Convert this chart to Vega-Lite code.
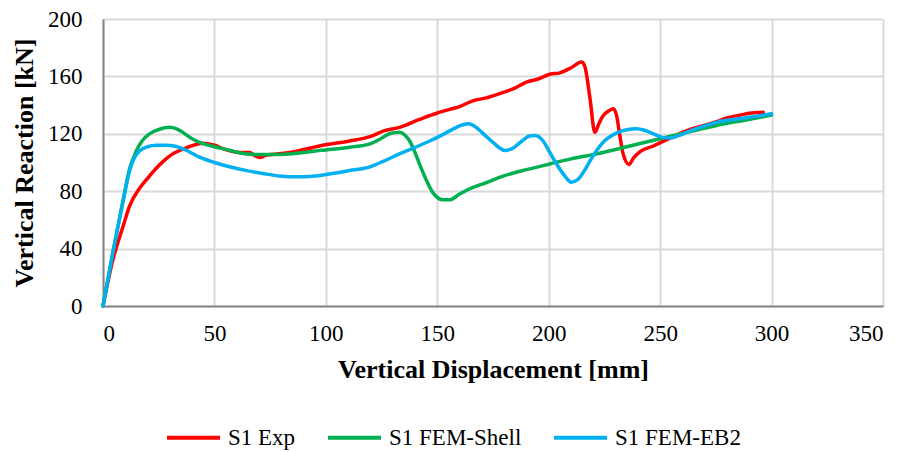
{
  "$schema": "https://vega.github.io/schema/vega-lite/v6.json",
  "autosize": "none",
  "width": 780,
  "height": 287,
  "padding": {"left": 103, "top": 19, "right": 21, "bottom": 146},
  "background": "white",
  "config": {
    "view": {"stroke": null},
    "font": "Liberation Serif, serif",
    "axis": {
      "labelFont": "Liberation Serif, serif",
      "labelFontSize": 23,
      "labelColor": "#000000",
      "titleFont": "Liberation Serif, serif",
      "titleFontSize": 26,
      "titleFontWeight": "bold",
      "titleColor": "#000000",
      "gridColor": "#D9D9D9",
      "gridWidth": 2,
      "domainColor": "#868686",
      "domainWidth": 2,
      "ticks": false
    },
    "legend": {"labelFont": "Liberation Serif, serif"}
  },
  "data": {
    "values": [
      {"series": "S1 Exp", "x": 0, "y": 0},
      {"series": "S1 Exp", "x": 4.4, "y": 32},
      {"series": "S1 Exp", "x": 8.9, "y": 55},
      {"series": "S1 Exp", "x": 12, "y": 70},
      {"series": "S1 Exp", "x": 16.4, "y": 82},
      {"series": "S1 Exp", "x": 20, "y": 89},
      {"series": "S1 Exp", "x": 23.9, "y": 96},
      {"series": "S1 Exp", "x": 27.5, "y": 101.5},
      {"series": "S1 Exp", "x": 31.3, "y": 106},
      {"series": "S1 Exp", "x": 37, "y": 110},
      {"series": "S1 Exp", "x": 44.8, "y": 113.5},
      {"series": "S1 Exp", "x": 50, "y": 112},
      {"series": "S1 Exp", "x": 55, "y": 109},
      {"series": "S1 Exp", "x": 61.3, "y": 107},
      {"series": "S1 Exp", "x": 65.8, "y": 107},
      {"series": "S1 Exp", "x": 68, "y": 105},
      {"series": "S1 Exp", "x": 70.3, "y": 103.5},
      {"series": "S1 Exp", "x": 73, "y": 105},
      {"series": "S1 Exp", "x": 78, "y": 106},
      {"series": "S1 Exp", "x": 83.7, "y": 107},
      {"series": "S1 Exp", "x": 90, "y": 109},
      {"series": "S1 Exp", "x": 98.6, "y": 112},
      {"series": "S1 Exp", "x": 110.7, "y": 115},
      {"series": "S1 Exp", "x": 119.8, "y": 118},
      {"series": "S1 Exp", "x": 126, "y": 122},
      {"series": "S1 Exp", "x": 133, "y": 124.5},
      {"series": "S1 Exp", "x": 142, "y": 130},
      {"series": "S1 Exp", "x": 150, "y": 134.5},
      {"series": "S1 Exp", "x": 155.6, "y": 137},
      {"series": "S1 Exp", "x": 160, "y": 139},
      {"series": "S1 Exp", "x": 166, "y": 143},
      {"series": "S1 Exp", "x": 172, "y": 145},
      {"series": "S1 Exp", "x": 178, "y": 148},
      {"series": "S1 Exp", "x": 185, "y": 152},
      {"series": "S1 Exp", "x": 190, "y": 156},
      {"series": "S1 Exp", "x": 195, "y": 158},
      {"series": "S1 Exp", "x": 200.5, "y": 161.5},
      {"series": "S1 Exp", "x": 205, "y": 162.5},
      {"series": "S1 Exp", "x": 210, "y": 166},
      {"series": "S1 Exp", "x": 214.7, "y": 170},
      {"series": "S1 Exp", "x": 216.2, "y": 167},
      {"series": "S1 Exp", "x": 218.5, "y": 145},
      {"series": "S1 Exp", "x": 220.7, "y": 121},
      {"series": "S1 Exp", "x": 222.5, "y": 127},
      {"series": "S1 Exp", "x": 224.4, "y": 132.5},
      {"series": "S1 Exp", "x": 227, "y": 136},
      {"series": "S1 Exp", "x": 229, "y": 137.5},
      {"series": "S1 Exp", "x": 230.4, "y": 133},
      {"series": "S1 Exp", "x": 232, "y": 118},
      {"series": "S1 Exp", "x": 233.4, "y": 106},
      {"series": "S1 Exp", "x": 236, "y": 98.6},
      {"series": "S1 Exp", "x": 238, "y": 103},
      {"series": "S1 Exp", "x": 241, "y": 107.5},
      {"series": "S1 Exp", "x": 247, "y": 111.5},
      {"series": "S1 Exp", "x": 254.4, "y": 117},
      {"series": "S1 Exp", "x": 263.4, "y": 123},
      {"series": "S1 Exp", "x": 270, "y": 126},
      {"series": "S1 Exp", "x": 275.3, "y": 128.5},
      {"series": "S1 Exp", "x": 280, "y": 131},
      {"series": "S1 Exp", "x": 285.8, "y": 133},
      {"series": "S1 Exp", "x": 291, "y": 134.5},
      {"series": "S1 Exp", "x": 296.3, "y": 135},

      {"series": "S1 FEM-Shell", "x": 0, "y": 0},
      {"series": "S1 FEM-Shell", "x": 4.5, "y": 38},
      {"series": "S1 FEM-Shell", "x": 8.9, "y": 73},
      {"series": "S1 FEM-Shell", "x": 12, "y": 96},
      {"series": "S1 FEM-Shell", "x": 14.9, "y": 108},
      {"series": "S1 FEM-Shell", "x": 17.5, "y": 115},
      {"series": "S1 FEM-Shell", "x": 20.9, "y": 120},
      {"series": "S1 FEM-Shell", "x": 25, "y": 123},
      {"series": "S1 FEM-Shell", "x": 29.9, "y": 124.6},
      {"series": "S1 FEM-Shell", "x": 33, "y": 123.5},
      {"series": "S1 FEM-Shell", "x": 35.8, "y": 121},
      {"series": "S1 FEM-Shell", "x": 40, "y": 116.5},
      {"series": "S1 FEM-Shell", "x": 43.3, "y": 114},
      {"series": "S1 FEM-Shell", "x": 50, "y": 111},
      {"series": "S1 FEM-Shell", "x": 56.8, "y": 108.5},
      {"series": "S1 FEM-Shell", "x": 62, "y": 106.5},
      {"series": "S1 FEM-Shell", "x": 68.8, "y": 105.6},
      {"series": "S1 FEM-Shell", "x": 76, "y": 105.5},
      {"series": "S1 FEM-Shell", "x": 83.7, "y": 106},
      {"series": "S1 FEM-Shell", "x": 90, "y": 107},
      {"series": "S1 FEM-Shell", "x": 98, "y": 108.5},
      {"series": "S1 FEM-Shell", "x": 110.7, "y": 110.7},
      {"series": "S1 FEM-Shell", "x": 119.8, "y": 113},
      {"series": "S1 FEM-Shell", "x": 124, "y": 116},
      {"series": "S1 FEM-Shell", "x": 128.6, "y": 120},
      {"series": "S1 FEM-Shell", "x": 133, "y": 121},
      {"series": "S1 FEM-Shell", "x": 135.5, "y": 119},
      {"series": "S1 FEM-Shell", "x": 137.6, "y": 115},
      {"series": "S1 FEM-Shell", "x": 140, "y": 107},
      {"series": "S1 FEM-Shell", "x": 142, "y": 99},
      {"series": "S1 FEM-Shell", "x": 145, "y": 88},
      {"series": "S1 FEM-Shell", "x": 148, "y": 79},
      {"series": "S1 FEM-Shell", "x": 152.6, "y": 74},
      {"series": "S1 FEM-Shell", "x": 155.6, "y": 74},
      {"series": "S1 FEM-Shell", "x": 160, "y": 78},
      {"series": "S1 FEM-Shell", "x": 164.6, "y": 81.7},
      {"series": "S1 FEM-Shell", "x": 172, "y": 86},
      {"series": "S1 FEM-Shell", "x": 179.5, "y": 90.5},
      {"series": "S1 FEM-Shell", "x": 190, "y": 95},
      {"series": "S1 FEM-Shell", "x": 200.5, "y": 99},
      {"series": "S1 FEM-Shell", "x": 210, "y": 102.5},
      {"series": "S1 FEM-Shell", "x": 221.5, "y": 106},
      {"series": "S1 FEM-Shell", "x": 235, "y": 111},
      {"series": "S1 FEM-Shell", "x": 249.9, "y": 116.5},
      {"series": "S1 FEM-Shell", "x": 262, "y": 121},
      {"series": "S1 FEM-Shell", "x": 275.3, "y": 125.8},
      {"series": "S1 FEM-Shell", "x": 288, "y": 129.5},
      {"series": "S1 FEM-Shell", "x": 300, "y": 133},

      {"series": "S1 FEM-EB2", "x": 0, "y": 0},
      {"series": "S1 FEM-EB2", "x": 4.5, "y": 38},
      {"series": "S1 FEM-EB2", "x": 8.9, "y": 72},
      {"series": "S1 FEM-EB2", "x": 11.9, "y": 94},
      {"series": "S1 FEM-EB2", "x": 14, "y": 103},
      {"series": "S1 FEM-EB2", "x": 16.4, "y": 108},
      {"series": "S1 FEM-EB2", "x": 20, "y": 111},
      {"series": "S1 FEM-EB2", "x": 23.9, "y": 112},
      {"series": "S1 FEM-EB2", "x": 28, "y": 112},
      {"series": "S1 FEM-EB2", "x": 32.9, "y": 111.2},
      {"series": "S1 FEM-EB2", "x": 38, "y": 108},
      {"series": "S1 FEM-EB2", "x": 43.3, "y": 103.7},
      {"series": "S1 FEM-EB2", "x": 50, "y": 100},
      {"series": "S1 FEM-EB2", "x": 56.8, "y": 97},
      {"series": "S1 FEM-EB2", "x": 64, "y": 94.5},
      {"series": "S1 FEM-EB2", "x": 71.8, "y": 92.3},
      {"series": "S1 FEM-EB2", "x": 80, "y": 90.5},
      {"series": "S1 FEM-EB2", "x": 86.8, "y": 90},
      {"series": "S1 FEM-EB2", "x": 93, "y": 90.3},
      {"series": "S1 FEM-EB2", "x": 98.7, "y": 91.3},
      {"series": "S1 FEM-EB2", "x": 105, "y": 92.8},
      {"series": "S1 FEM-EB2", "x": 110.7, "y": 94.4},
      {"series": "S1 FEM-EB2", "x": 119.8, "y": 97},
      {"series": "S1 FEM-EB2", "x": 126, "y": 101},
      {"series": "S1 FEM-EB2", "x": 133, "y": 106},
      {"series": "S1 FEM-EB2", "x": 140, "y": 110.5},
      {"series": "S1 FEM-EB2", "x": 148, "y": 116},
      {"series": "S1 FEM-EB2", "x": 155.6, "y": 122},
      {"series": "S1 FEM-EB2", "x": 160, "y": 125.5},
      {"series": "S1 FEM-EB2", "x": 164, "y": 127},
      {"series": "S1 FEM-EB2", "x": 167, "y": 125},
      {"series": "S1 FEM-EB2", "x": 170, "y": 121},
      {"series": "S1 FEM-EB2", "x": 175, "y": 114},
      {"series": "S1 FEM-EB2", "x": 180.3, "y": 108.4},
      {"series": "S1 FEM-EB2", "x": 184, "y": 110},
      {"series": "S1 FEM-EB2", "x": 188, "y": 115},
      {"series": "S1 FEM-EB2", "x": 191.5, "y": 118.5},
      {"series": "S1 FEM-EB2", "x": 194, "y": 118.8},
      {"series": "S1 FEM-EB2", "x": 197.5, "y": 115},
      {"series": "S1 FEM-EB2", "x": 200.5, "y": 107},
      {"series": "S1 FEM-EB2", "x": 203.5, "y": 99},
      {"series": "S1 FEM-EB2", "x": 207, "y": 91},
      {"series": "S1 FEM-EB2", "x": 210.2, "y": 86.3},
      {"series": "S1 FEM-EB2", "x": 213, "y": 88},
      {"series": "S1 FEM-EB2", "x": 215.5, "y": 93},
      {"series": "S1 FEM-EB2", "x": 218.5, "y": 101},
      {"series": "S1 FEM-EB2", "x": 221.5, "y": 108.4},
      {"series": "S1 FEM-EB2", "x": 225, "y": 115},
      {"series": "S1 FEM-EB2", "x": 230.4, "y": 120.5},
      {"series": "S1 FEM-EB2", "x": 235, "y": 122.8},
      {"series": "S1 FEM-EB2", "x": 239.4, "y": 123.5},
      {"series": "S1 FEM-EB2", "x": 243, "y": 122.5},
      {"series": "S1 FEM-EB2", "x": 247, "y": 120},
      {"series": "S1 FEM-EB2", "x": 251, "y": 117.5},
      {"series": "S1 FEM-EB2", "x": 254.4, "y": 117},
      {"series": "S1 FEM-EB2", "x": 258, "y": 118.5},
      {"series": "S1 FEM-EB2", "x": 263.4, "y": 122},
      {"series": "S1 FEM-EB2", "x": 270, "y": 125.5},
      {"series": "S1 FEM-EB2", "x": 275.3, "y": 128},
      {"series": "S1 FEM-EB2", "x": 288, "y": 131},
      {"series": "S1 FEM-EB2", "x": 300, "y": 134}
    ]
  },
  "mark": {"type": "line", "interpolate": "monotone", "strokeWidth": 3.5, "strokeCap": "round", "strokeJoin": "round"},
  "encoding": {
    "x": {
      "field": "x",
      "type": "quantitative",
      "scale": {"domain": [0, 350], "nice": false},
      "axis": {"values": [0, 50, 100, 150, 200, 250, 300, 350], "title": "Vertical Displacement [mm]", "labelFont": "Liberation Serif, serif", "labelFontSize": 23, "labelPadding": 16, "titlePadding": 11}
    },
    "y": {
      "field": "y",
      "type": "quantitative",
      "scale": {"domain": [0, 200], "nice": false},
      "axis": {"values": [0, 40, 80, 120, 160, 200], "title": "Vertical Reaction [kN]", "labelFont": "Liberation Serif, serif", "labelFontSize": 23, "labelPadding": 21, "titlePadding": 10}
    },
    "color": {
      "field": "series",
      "type": "nominal",
      "sort": null,
      "scale": {"domain": ["S1 Exp", "S1 FEM-Shell", "S1 FEM-EB2"], "range": ["#FF0000", "#00B050", "#00B0F0"]},
      "legend": {
        "title": null,
        "orient": "none",
        "legendX": 62,
        "legendY": 390,
        "direction": "horizontal",
        "symbolType": "stroke",
        "symbolSize": 2809,
        "symbolStrokeWidth": 4,
        "labelFont": "Liberation Serif, serif",
        "labelFontSize": 23,
        "labelColor": "#000000",
        "labelOffset": 6,
        "columnPadding": 24,
        "labelLimit": 300
      }
    }
  }
}
